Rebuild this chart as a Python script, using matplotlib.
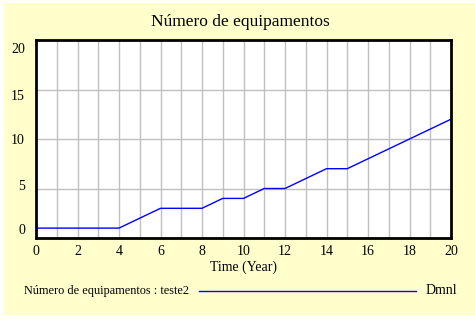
import matplotlib.pyplot as plt
from matplotlib.patches import Rectangle
from matplotlib.lines import Line2D
from matplotlib.transforms import ScaledTranslation

# data
years = [0, 1, 2, 3, 4, 5, 6, 7, 8, 9, 10, 11, 12, 13, 14, 15, 16, 17, 18, 19, 20]
equipamentos = [1, 1, 1, 1, 1, 2, 3, 3, 3, 4, 4, 5, 5, 6, 7, 7, 8, 9, 10, 11, 12]
x_ticks = list(range(0, 21, 2))
y_ticks = [0, 5, 10, 15, 20]

plt.rcParams['font.family'] = ['Liberation Serif', 'DejaVu Serif']

W, H = 475, 319
fig = plt.figure(figsize=(W / 100, H / 100), dpi=100, facecolor='white')

# pale yellow panel, behind the axes
fig.patches.append(Rectangle((4 / W, 1 - 315 / H), 471 / W, 312 / H,
                             transform=fig.transFigure, facecolor='#FFFFCC',
                             edgecolor='none', zorder=-10))

ax = fig.add_axes([36 / W, 1 - 238 / H, 415 / W, 198 / H])
ax.set_zorder(1)
ax.set_facecolor('white')
ax.plot(years, equipamentos, color='#0000FF', lw=1)

ax.set_xlim(0, 20)
ax.set_ylim(0, 20)
ax.set_xticks(range(0, 21), minor=True)
ax.set_xticks(x_ticks)
ax.set_yticks(y_ticks)
ax.grid(True, which='both', axis='x', color='#C0C0C0', lw=1)
ax.grid(True, which='major', axis='y', color='#C0C0C0', lw=1)
ax.set_axisbelow(True)
ax.tick_params(which='both', length=0, labelsize=10)
ax.tick_params(axis='y', pad=8)
ax.tick_params(axis='x', pad=5)
for s in ax.spines.values():
    s.set_linewidth(2)
    s.set_color('black')

# y labels are spread a bit inward, like the original tool draws them
shifts = [9, 3, 0, -5, -8]
for lab, dy in zip(ax.get_yticklabels(), shifts):
    lab.set_transform(lab.get_transform() + ScaledTranslation(0, dy / 100, fig.dpi_scale_trans))

ax.set_xlabel('Time (Year)', fontsize=10, labelpad=2)
fig.text(240 / W, 1 - 22 / H, 'Número de equipamentos', ha='center', va='center', fontsize=12.5)

# legend row
ly = 1 - 291 / H
fig.text(24 / W, ly, 'Número de equipamentos : teste2', ha='left', va='center', fontsize=8.8)
fig.add_artist(Line2D([199 / W, 416 / W], [ly, ly], transform=fig.transFigure,
                      color='#0000FF', lw=1))
fig.text(426 / W, ly, 'Dmnl', ha='left', va='center', fontsize=10)

fig.savefig('out.png', dpi=100, facecolor='white')
